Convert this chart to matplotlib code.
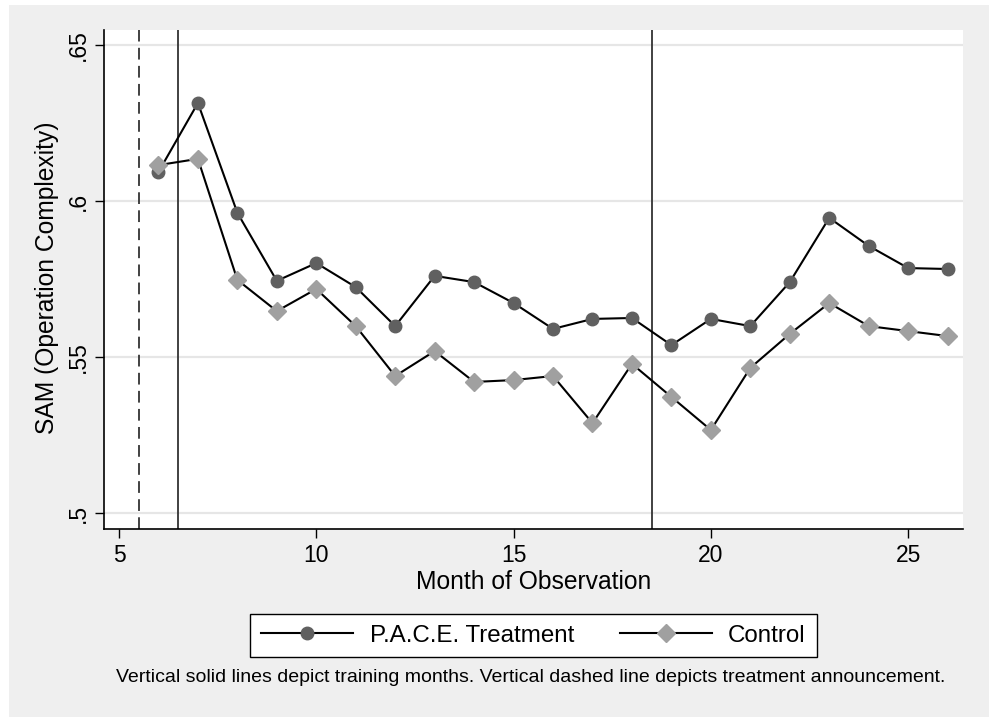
import matplotlib
matplotlib.use("Agg")
import matplotlib.pyplot as plt
from matplotlib.patches import Rectangle

# Данные
months = [6, 7, 8, 9, 10, 11, 12, 13, 14, 15, 16, 17, 18, 19, 20, 21, 22, 23, 24, 25, 26]
treatment = [0.6093, 0.6314, 0.5962, 0.5744, 0.5801, 0.5724, 0.5599, 0.5760,
             0.5740, 0.5673, 0.5590, 0.5622, 0.5625, 0.5538, 0.5622, 0.5599,
             0.5740, 0.5946, 0.5856, 0.5785, 0.5782]
control = [0.6115, 0.6135, 0.5747, 0.5647, 0.5718, 0.5599, 0.5439, 0.5519,
           0.5420, 0.5426, 0.5439, 0.5288, 0.5478, 0.5372, 0.5266, 0.5465,
           0.5574, 0.5673, 0.5599, 0.5583, 0.5567]
training_months = [6.5, 18.5]
announcement_month = 5.5
x_ticks = [5, 10, 15, 20, 25]
y_ticks = [0.5, 0.55, 0.6, 0.65]
y_tick_labels = ['.5', '.55', '.6', '.65']

plt.rcParams['font.family'] = ['Liberation Sans', 'DejaVu Sans']

fig = plt.figure(figsize=(9.89, 7.17), dpi=100, facecolor='white')
# Серый фон области графика (как в Stata)
bg = Rectangle((9 / 989, 0), 1, 712 / 717, transform=fig.transFigure,
               facecolor='#efefef', edgecolor='none', zorder=-10)
fig.patches.append(bg)

ax = fig.add_axes([104 / 989, 1 - 529 / 717, (963 - 104) / 989, (529 - 30) / 717])
ax.set_facecolor('white')

ax.plot(months, treatment, color='black', lw=1.5, marker='o', ms=9,
        mfc='#606060', mec='#606060', label='P.A.C.E. Treatment', zorder=3)
ax.plot(months, control, color='black', lw=1.5, marker='D', ms=9,
        mfc='#a0a0a0', mec='#a0a0a0', label='Control', zorder=3)

for m in training_months:
    ax.axvline(m, color='#333333', lw=1.3, zorder=2)
ax.axvline(announcement_month, color='#333333', lw=1.3, ls=(0, (6.5, 3.5)), zorder=2)

ax.set_xlim(4.62, 26.39)
ax.set_ylim(0.49487, 0.6548)
ax.set_xticks(x_ticks)
ax.set_yticks(y_ticks)
ax.set_yticklabels(y_tick_labels, rotation=90, va='center')
ax.tick_params(axis='both', labelsize=16.5, length=6.5, width=1, color='black', pad=4)
ax.yaxis.grid(True, color='#e6e6e6', lw=1.6)
ax.set_axisbelow(True)

for side in ['top', 'right']:
    ax.spines[side].set_visible(False)
for side in ['left', 'bottom']:
    ax.spines[side].set_linewidth(1.2)

ax.set_xlabel('Month of Observation', fontsize=17.7, va='center')
ax.xaxis.set_label_coords(0.5, -(582 - 529) / 499)
ax.set_ylabel('SAM (Operation Complexity)', fontsize=17.7, va='center')
ax.yaxis.set_label_coords((47 - 104) / 859, (529 - 278) / 499)

leg = fig.legend(loc='center', bbox_to_anchor=(533.5 / 989, 1 - 635.5 / 717), ncol=2,
                 fontsize=17.4, frameon=True, fancybox=False, edgecolor='black',
                 facecolor='white', framealpha=1, handlelength=3.8,
                 handletextpad=0.68, columnspacing=1.9, borderpad=0.45,
                 borderaxespad=0)
leg.get_frame().set_linewidth(1.0)

fig.text(531 / 989, 1 - 677 / 717,
         'Vertical solid lines depict training months. Vertical dashed line depicts treatment announcement.',
         ha='center', va='center', fontsize=14)

fig.savefig('out.png', dpi=100, facecolor=fig.get_facecolor())
